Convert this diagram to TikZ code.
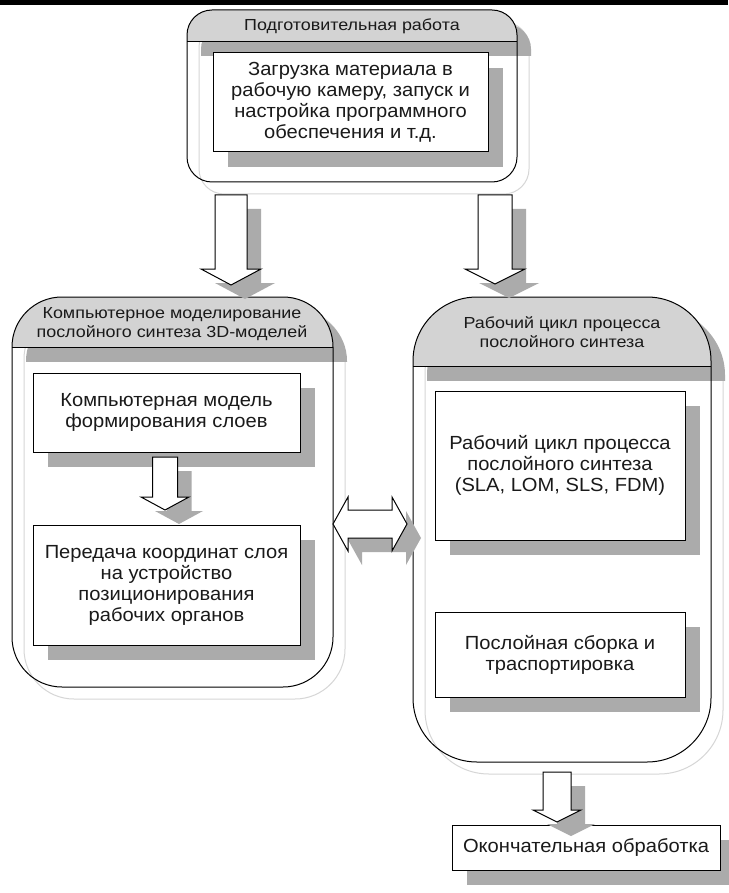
\documentclass[tikz,border=0pt]{standalone}
\usepackage{fontspec}
\setmainfont{Liberation Sans}
\newfontfamily\hdrfont[FakeStretch=1.12]{Liberation Sans}
\newfontfamily\boxfont[FakeStretch=1.06]{Liberation Sans}
\definecolor{headgrey}{HTML}{D3D3D3}
\definecolor{shadowgrey}{HTML}{ABABAB}
\definecolor{lightline}{HTML}{D6D6D6}
\definecolor{txt}{HTML}{1A1A1A}
\newcommand\mycontainer[6]{% x1 y1 x2 yh y2 r
  \draw[lightline, line width=1pt, rounded corners=#6] ({#1+12},{#2+12}) rectangle ({#3+12},{#5+12});
  \begin{scope}
    \clip ({#1+14},{#2+14}) rectangle ({#3+14},{#4+14});
    \fill[shadowgrey, rounded corners=#6] ({#1+14},{#2+14}) rectangle ({#3+14},{#5+14});
  \end{scope}
  \begin{scope}
    \clip (#1,#2) rectangle (#3,#4);
    \fill[headgrey, rounded corners=#6] (#1,#2) rectangle (#3,#5);
  \end{scope}
  \draw[outl] (#1,#4) -- (#3,#4);
  \draw[outl, rounded corners=#6] (#1,#2) rectangle (#3,#5);
}
% cx ytop yhead ytip halfshaft halfhead
\newcommand\arrowpath[6]{({#1-#5},#2) -- ({#1+#5},#2) -- ({#1+#5},#3) -- ({#1+#6},#3) -- (#1,#4) -- ({#1-#6},#3) -- ({#1-#5},#3) -- cycle}
\newcommand\blockdown[6]{%
  \fill[shadowgrey, shift={(14,14)}] \arrowpath{#1}{#2}{#3}{#4}{#5}{#6};
  \filldraw[outl, fill=white] \arrowpath{#1}{#2}{#3}{#4}{#5}{#6};
}
\newcommand\boxshadow[4]{\fill[shadowgrey] ({#1+15},{#2+15}) rectangle ({#3+15},{#4+15});}
\begin{document}
\begin{tikzpicture}[x=1pt,y=-1pt,
  outl/.style={draw=black, line width=1pt},
  hdrtext/.style={font=\hdrfont\fontsize{16}{19.5}\selectfont, text=txt, align=center, inner sep=0pt},
  boxtext/.style={font=\boxfont\fontsize{19}{21}\selectfont, text=txt, align=center},
  box/.style={rectangle, draw=black, line width=1pt, fill=white, inner sep=0pt, boxtext}]
\useasboundingbox (0,0) rectangle (728,893);
\fill[white] (0,0) rectangle (728,893);
\fill[black] (0,0) rectangle (728,5);

% containers
\mycontainer{187}{10}{517}{42}{182}{25}
\mycontainer{12}{297}{333}{347}{687}{50}
\mycontainer{413}{297}{711}{366}{762}{64}

% header texts
\node[hdrtext] (h1) at (352,26) {Подготовительная работа};
\node[hdrtext] (h2) at (172,324) {Компьютерное моделирование\\послойного синтеза 3D-моделей};
\node[hdrtext] (h3) at (562,332) {Рабочий цикл процесса\\послойного синтеза};

% top box
\boxshadow{213}{53}{488}{152}
\node[box, minimum width=275, minimum height=99] (b0) at (350.5,102.5)
  {Загрузка материала в\\рабочую камеру, запуск и\\настройка программного\\обеспечения и т.д.};

% left boxes
\boxshadow{33}{373}{300}{452}
\node[box, minimum width=267, minimum height=79] (l1) at (166.5,412.5)
  {Компьютерная модель\\формирования слоев};
\boxshadow{33}{525}{300}{645}
\node[box, minimum width=267, minimum height=120] (l2) at (166.5,585)
  {Передача координат слоя\\на устройство\\позиционирования\\рабочих органов};

% right boxes
\boxshadow{435}{391}{685}{540}
\node[box, minimum width=250, minimum height=149] (r1) at (560,465.5)
  {Рабочий цикл процесса\\послойного синтеза\\(SLA, LOM, SLS, FDM)};
\boxshadow{435}{612}{685}{697}
\node[box, minimum width=250, minimum height=85] (r2) at (560,654.5)
  {Послойная сборка и\\траспортировка};

% final box
\boxshadow{452}{825}{720}{870}
\node[box, minimum width=268, minimum height=45] (f) at (586,847.5)
  {Окончательная обработка};

% block arrows
\blockdown{231}{195}{269}{285}{16}{30}
\blockdown{495}{195}{269}{284}{17}{30}
\blockdown{165}{457}{497}{510}{12.5}{24}
\blockdown{557}{772}{810}{822}{14}{24}

% double arrow
\fill[shadowgrey, shift={(14,14)}] (333,524) -- (348,497) -- (348,510) -- (392,510) -- (392,497) -- (407,524) -- (392,551) -- (392,538) -- (348,538) -- (348,551) -- cycle;
\filldraw[outl, fill=white] (333,524) -- (348,497) -- (348,510) -- (392,510) -- (392,497) -- (407,524) -- (392,551) -- (392,538) -- (348,538) -- (348,551) -- cycle;
\end{tikzpicture}
\end{document}
